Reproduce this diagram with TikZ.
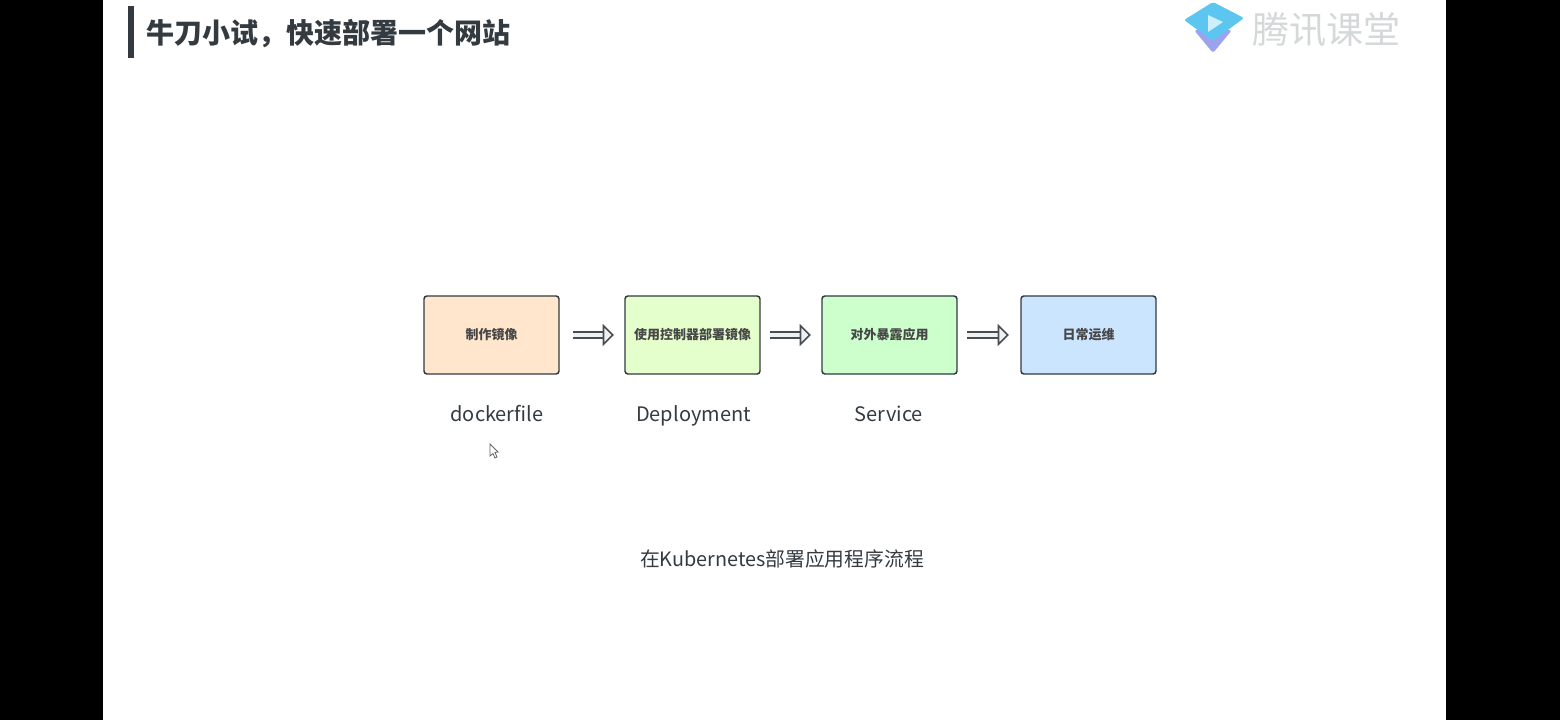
\documentclass[tikz,border=0pt]{standalone}
\usepackage{fontspec}
\setmainfont{Noto Sans CJK SC}
\usetikzlibrary{arrows.meta,positioning}

\definecolor{inkgray}{HTML}{333A40}
\definecolor{logogray}{HTML}{D4D8D8}
\definecolor{logoblue}{HTML}{5CC6F0}
\definecolor{logoviolet}{HTML}{9DA2EC}
\definecolor{peach}{HTML}{FFE6CC}
\definecolor{lime}{HTML}{E4FFCC}
\definecolor{mint}{HTML}{CCFFCC}
\definecolor{sky}{HTML}{CCE5FF}

\begin{document}
\begin{tikzpicture}[
      x=0.75pt, y=-0.75pt,
      stepbox/.style={draw=inkgray, line width=1.1pt, rounded corners=2.2pt, align=center, font=\fontsize{9.75}{12}\selectfont\bfseries, text=black!72, minimum width=101.25pt, minimum height=58.5pt, inner sep=0pt, outer sep=0pt},
      note/.style={anchor=base, font=\fontsize{15}{18}\selectfont, text=inkgray, inner sep=0pt},
      flow/.style={double=gray!12, double distance=3.6pt, line width=1.2pt, draw=inkgray!90, shorten <=7.5pt, shorten >=8.25pt, -{Triangle[length=8.5pt,width=16.5pt,fill=gray!12,line width=1.2pt]}}
    ]
    \useasboundingbox (0,0) rectangle (1560,720);
    \fill[black] (0,0) rectangle (103,720);
    \fill[black] (1446,0) rectangle (1560,720);

    % heading
    \fill[inkgray] (128,6) rectangle (134,58);
    \node[anchor=west, inner sep=0pt, font=\fontsize{21}{25}\selectfont\bfseries, text=inkgray] (title) at (146,34) {牛刀小试，快速部署一个网站};

    % logo
    \fill[logoviolet, rounded corners=2pt] (1194,30) -- (1213,53) -- (1232,30) -- cycle;
    \fill[logoblue, rounded corners=1.5pt] (1184,20) -- (1213,2) -- (1244,18) -- (1213,41) -- cycle;
    \fill[white!70!logoblue] (1208,15) -- (1223,22) -- (1208,32) -- cycle;
    \node[inner sep=0pt, font=\fontsize{27.75}{30}\selectfont, text=logogray] (logo) at (1326,30) {腾讯课堂};

    \node[stepbox, fill=peach] (s1) at (491.5,335) {制作镜像};
    \node[stepbox, fill=lime, right=49.5pt of s1] (s2) {使用控制器部署镜像};
    \node[stepbox, fill=mint, right=46.5pt of s2] (s3) {对外暴露应用};
    \node[stepbox, fill=sky, right=48pt of s3] (s4) {日常运维};

    \draw[flow, shorten <=10.5pt] (s1) -- (s2);
    \draw[flow] (s2) -- (s3);
    \draw[flow, shorten >=9pt] (s3) -- (s4);

    \node[note] (n1) at (497,421) {dockerfile};
    \node[note] (n2) at (693.5,421) {Deployment};
    \node[note] (n3) at (889,421) {Service};
    \node[note, font=\fontsize{14.85}{18}\selectfont] (cap) at (782,566) {在Kubernetes部署应用程序流程};

    % pointer
    \draw[fill=white, draw=gray!80!black, line width=0.6pt] (490,444) -- (490,456) -- (493,453.5) -- (495,458) -- (497,457) -- (495,452.5) -- (498,452) -- cycle;
  \end{tikzpicture}
\end{document}
